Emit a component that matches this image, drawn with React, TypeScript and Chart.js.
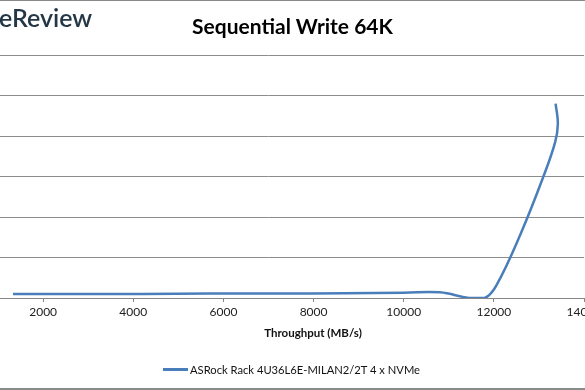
import React, { useEffect, useRef } from "react";
import { Chart, registerables } from "chart.js";

Chart.register(...registerables);

const chartTitle = "Sequential Write 64K";
const logoText = "eReview";
const seriesName = "ASRock Rack 4U36L6E-MILAN2/2T 4 x NVMe";
const xAxisTitle = "Throughput (MB/s)";

// Throughput (MB/s)
const throughput = [1330, 2800, 4200, 5700, 7200, 8700, 10000, 10800, 11450, 11800, 12050, 12600, 13100, 13360, 13420, 13370];
// Latency (ms)
const latency = [1.0, 1.0, 1.0, 1.1, 1.1, 1.2, 1.3, 1.4, 0.0, 0.0, 3.0, 16.0, 30.0, 38.5, 43.0, 48.0];

const xMin = 0;
const xMax = 14000;
const xStep = 2000;
const yMin = 0;
const yMax = 60;
const yStep = 10;

const FONT = "Lato, 'Open Sans', sans-serif";

export default function App() {
  const canvasRef = useRef<HTMLCanvasElement>(null);

  useEffect(() => {
    document.body.style.margin = "0";
    const ctx = canvasRef.current;
    if (!ctx) return;
    const points = throughput.map((x, i) => ({ x, y: latency[i] }));
    const chart = new Chart(ctx, {
      type: "scatter",
      data: {
        datasets: [
          {
            label: seriesName,
            data: points,
            showLine: true,
            borderColor: "#4a7ebb",
            backgroundColor: "#4a7ebb",
            borderWidth: 2.5,
            pointRadius: 0,
            pointHoverRadius: 0,
            tension: 0.4,
          },
        ],
      },
      options: {
        animation: false,
        responsive: false,
        maintainAspectRatio: false,
        layout: { padding: { left: 53, right: 40, top: 55, bottom: 42 } },
        plugins: {
          legend: { display: false },
          title: { display: false },
          tooltip: { enabled: false },
        },
        scales: {
          x: {
            type: "linear",
            min: xMin,
            max: xMax,
            ticks: {
              stepSize: xStep,
              color: "#222",
              font: { family: FONT, size: 12 },
              padding: 3,
              maxRotation: 0,
              callback: (v: any) => String(v),
            },
            grid: {
              drawOnChartArea: false,
              drawTicks: true,
              tickLength: 4,
              color: "#868686",
            },
            border: { color: "#868686", width: 1 },
            title: { display: false },
            afterFit: (scale: any) => {
              scale.height = 50;
            },
          },
          y: {
            type: "linear",
            min: yMin,
            max: yMax,
            ticks: { stepSize: yStep, display: false },
            grid: { color: "#8c8c8c", drawTicks: false, lineWidth: 1 },
            border: { display: false },
            afterFit: (scale: any) => {
              scale.width = 0;
            },
          },
        },
      },
    });
    return () => chart.destroy();
  }, []);

  return (
    <div
      style={{
        position: "fixed",
        left: 0,
        top: 0,
        width: 585,
        height: 390,
        overflow: "hidden",
        background: "#fff",
      }}
    >
      <canvas
        ref={canvasRef}
        width={724}
        height={390}
        style={{ position: "absolute", left: -100, top: 0, width: 724, height: 390 }}
      />
      <div style={{ position: "absolute", left: 0, top: 0, width: 585, height: 1, background: "#8a8a8a" }} />
      <div style={{ position: "absolute", left: 0, top: 388, width: 585, height: 2, background: "#8a8a8a" }} />
      <div
        style={{
          position: "absolute",
          left: -1,
          top: 2,
          fontFamily: FONT,
          fontSize: 25,
          fontWeight: 600,
          color: "#243746",
          lineHeight: "30px",
        }}
      >
        {logoText}
      </div>
      <div
        style={{
          position: "absolute",
          left: 0,
          width: 585,
          top: 13,
          textAlign: "center",
          fontFamily: FONT,
          fontWeight: "bold",
          fontSize: 21,
          lineHeight: "26px",
          color: "#000",
        }}
      >
        {chartTitle}
      </div>
      <div
        style={{
          position: "absolute",
          left: 213,
          width: 200,
          top: 325,
          textAlign: "center",
          fontFamily: FONT,
          fontWeight: "bold",
          fontSize: 11.5,
          lineHeight: "16px",
          color: "#111",
        }}
      >
        {xAxisTitle}
      </div>
      <div
        style={{
          position: "absolute",
          left: 163,
          top: 360,
          height: 18,
          display: "flex",
          alignItems: "center",
          fontFamily: FONT,
          fontSize: 11.2,
          color: "#111",
        }}
      >
        <span style={{ display: "inline-block", width: 25, height: 3, background: "#4a7ebb", marginRight: 2 }} />
        <span>{seriesName}</span>
      </div>
    </div>
  );
}
